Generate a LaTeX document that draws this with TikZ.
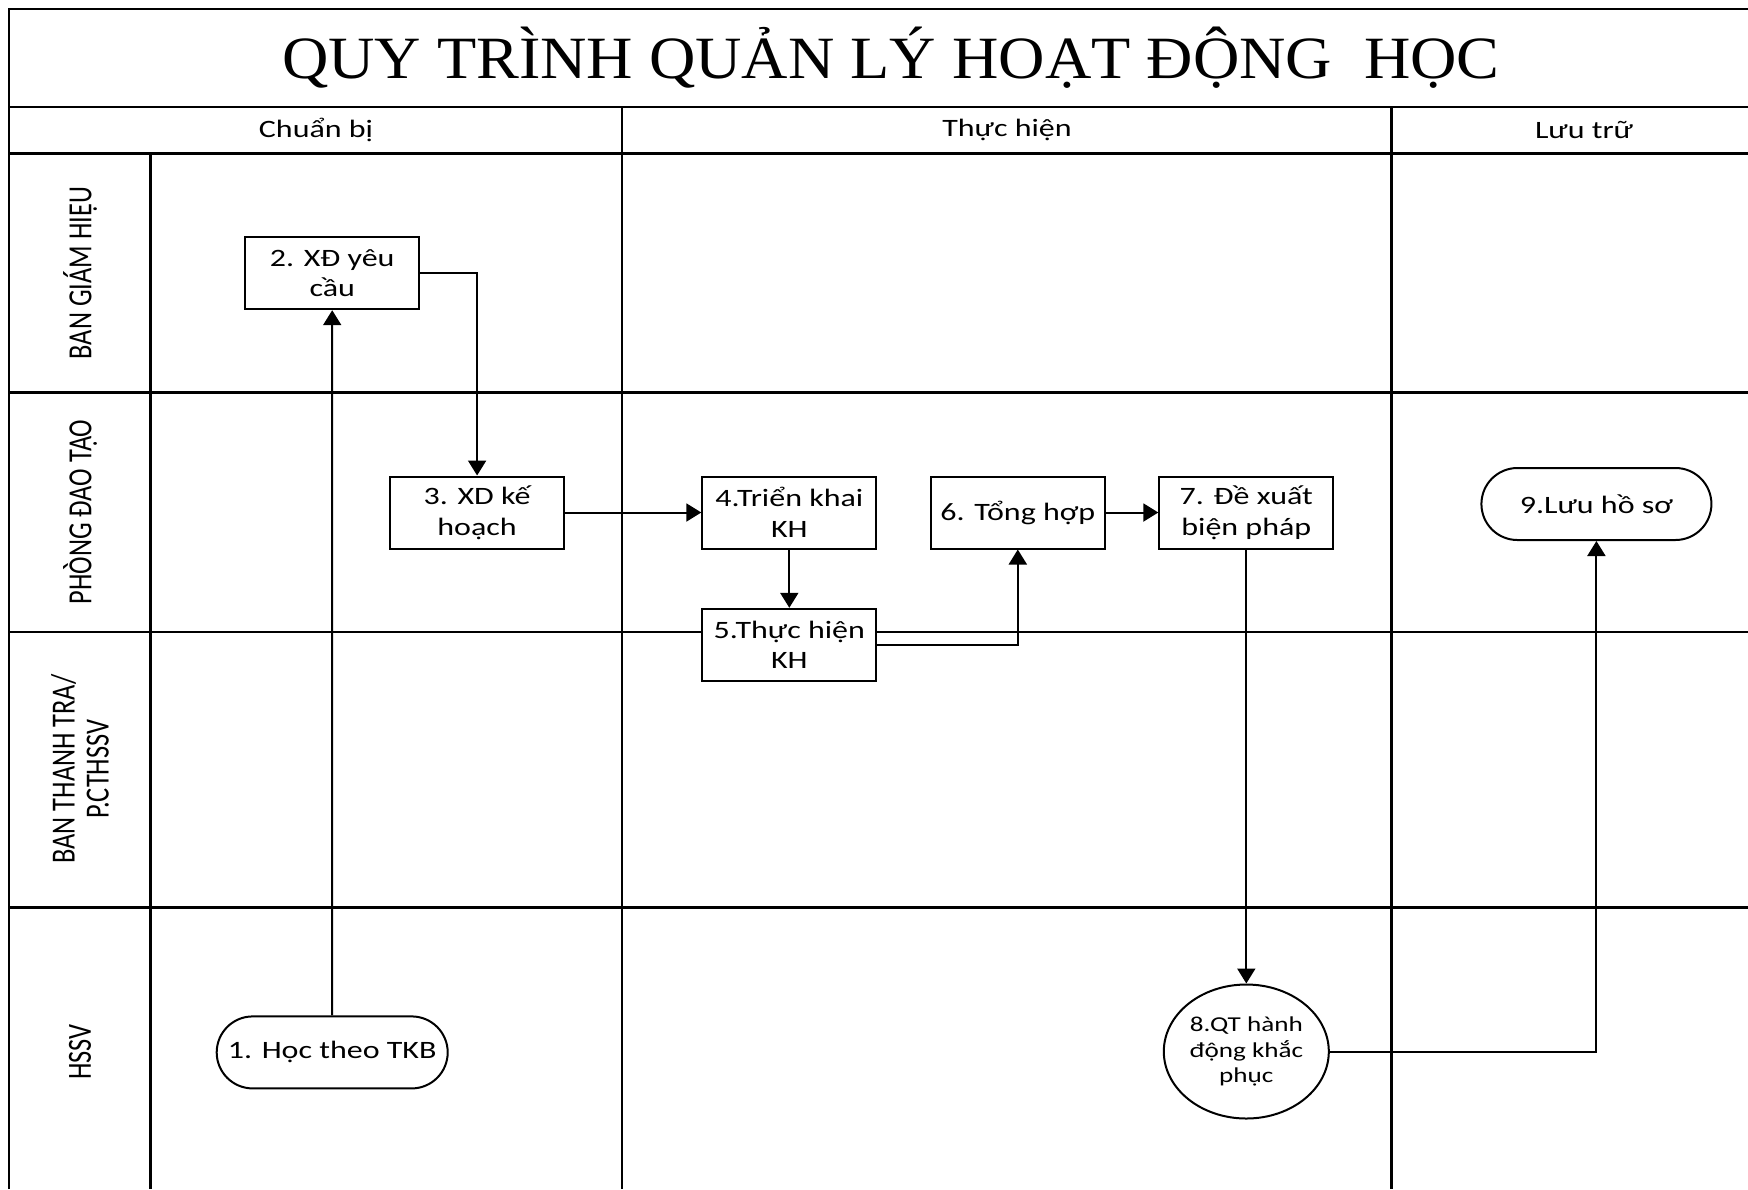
\documentclass[tikz,border=0pt]{standalone}
\usepackage{fontspec}
\setmainfont{Carlito}[FakeStretch=1.28]
\newfontfamily\titlefont{Liberation Serif}[FakeStretch=1.07]
\newfontfamily\lanefont{Carlito}[FakeStretch=0.78]
\usetikzlibrary{arrows.meta,shapes.geometric,shapes.misc}

\begin{document}
\begin{tikzpicture}[x=0.5pt,y=0.5pt,yscale=-1,xscale=1,
  frame/.style={line width=1.4pt},
  stepbox/.style={draw,line width=1pt,fill=white,minimum width=87pt,minimum height=36pt,align=center,inner sep=1pt,font=\fontsize{12.5}{15.3}\selectfont},
  terminal/.style={stepbox,rounded rectangle,minimum width=117pt},
  flow/.style={line width=1pt,-{Triangle[length=7.5pt,width=9pt]}},
  lanelabel/.style={rotate=90,align=center,font=\lanefont\fontsize{16.9}{17}\selectfont},
  phase/.style={font=\fontsize{12.5}{15}\selectfont}]
\useasboundingbox (0,0) rectangle (1748,1189);

%Frame and lanes
\draw [frame] (9,1189) -- (9,9) -- (1748,9) ;
\foreach \y in {107,153.8,392.4,632,907.4}
  \draw [frame] (9,\y) -- (1748,\y) ;
\draw [frame] (150.5,153.8) -- (150.5,1189) ;
\draw [frame] (622,107) -- (622,1189) ;
\draw [frame] (1391.3,107) -- (1391.3,1189) ;

% Text Node
\node (title) at (891,58) {\titlefont\fontsize{30}{32}\selectfont QUY TRÌNH QUẢN LÝ HOẠT ĐỘNG\ \ HỌC};
% Text Node
\node [phase] (prep) at (316,130) {Chuẩn bị};
\node [phase] (exec) at (1007,130) {Thực hiện};
\node [phase] (store) at (1584,130) {Lưu trữ};
% Text Node
\node [lanelabel] (bgh) at (80,273) {BAN GIÁM HIỆU};
\node [lanelabel] (pdt) at (80,512) {PHÒNG ĐAO TẠO};
\node [lanelabel] (btt) at (80,769) {BAN THANH TRA/\\P.CTHSSV};
\node [lanelabel] (hssv) at (80,1052) {HSSV};

%Steps
\node [terminal,minimum width=117.5pt] (hoc) at (332.2,1052.4) {1. Học theo TKB};
\node [stepbox] (yeucau) at (332.2,273.2) {2. XĐ yêu\\cầu};
\node [stepbox] (kehoach) at (477.1,512.5) {3. XD kế\\hoạch};
\node [stepbox] (trienkhai) at (789.3,512.5) {4.Triển khai\\KH};
\node [stepbox] (thuchien) at (789.3,644.8) {5.Thực hiện\\KH};
\node [stepbox] (tonghop) at (1017.8,512.5) {6. Tổng hợp};
\node [stepbox] (dexuat) at (1246.3,512.5) {7. Đề xuất\\biện pháp};
\node [stepbox,ellipse,minimum width=82.5pt,minimum height=67pt,inner sep=0pt,font=\fontsize{10.6}{12.7}\selectfont] (khacphuc) at (1246.3,1051.5) {8.QT hành\\động khắc\\phục};
\node [terminal] (luu) at (1596.4,504) {9.Lưu hồ sơ};

%Connectors
\draw [flow] (hoc) -- (yeucau) ;
\draw [flow] (yeucau.east) -| (kehoach.north) ;
\draw [flow] (kehoach) -- (trienkhai) ;
\draw [flow] (trienkhai) -- (thuchien) ;
\draw [flow] (thuchien.east) -| (tonghop.south) ;
\draw [flow] (tonghop) -- (dexuat) ;
\draw [flow] (dexuat) -- (khacphuc) ;
\draw [flow] (khacphuc.east) -| (luu.south) ;

\end{tikzpicture}
\end{document}
